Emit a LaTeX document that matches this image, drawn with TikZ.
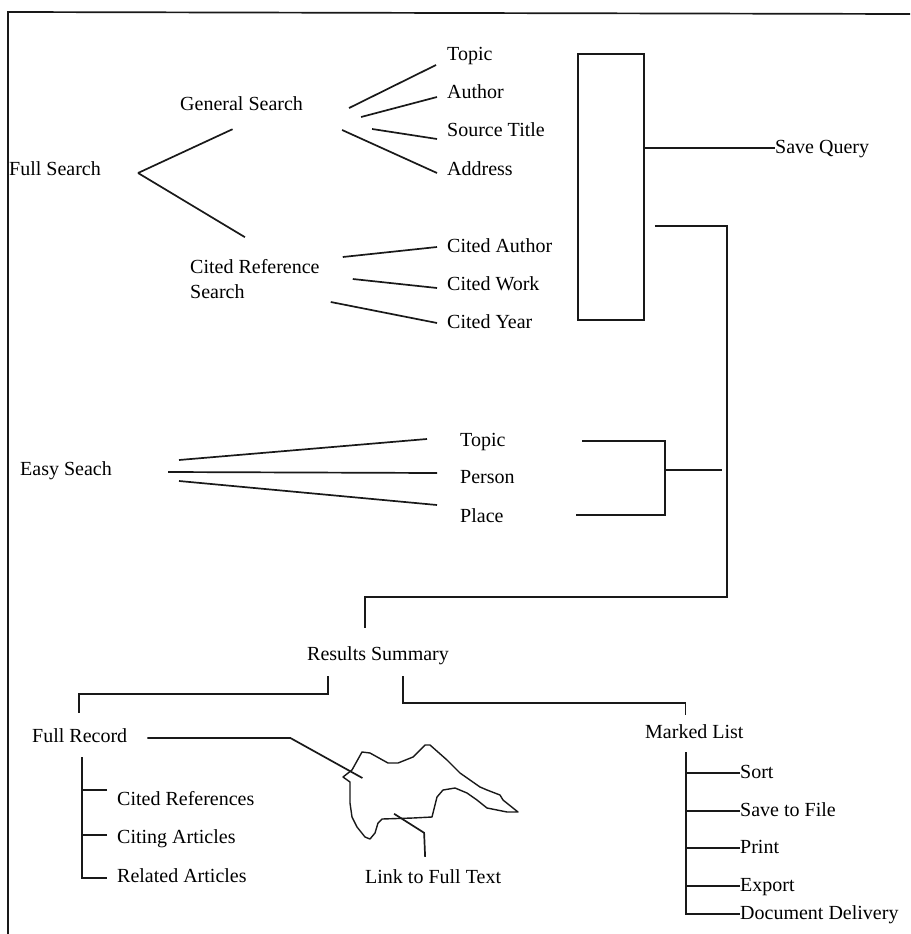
\documentclass[tikz,border=0pt]{standalone}
\usepackage{fontspec}
\setmainfont{Liberation Serif}
\usetikzlibrary{calc}

\begin{document}
\begin{tikzpicture}[
        x=1pt, y=-1pt,
        font=\fontsize{20}{25}\selectfont,
        lbl/.style={anchor=west, inner sep=0pt, text height=14pt, text depth=4pt},
        lbltwo/.style={anchor=west, inner sep=0pt, align=left},
        ln/.style={line width=1.7pt, black!90},
        blob/.style={line width=1.4pt, black!90, line join=round}
    ]
    \useasboundingbox (0,0) rectangle (910,934);
    \draw[ln] (8,934) -- (8,12) -- (910,14);

    \node[lbl] (full) at (9,170) {Full Search};
    \node[lbl] (general) at (180,105) {General Search};
    \node[lbl] (topic1) at (447,55) {Topic};
    \node[lbl] (author) at (447,93) {Author};
    \node[lbl] (source) at (447,131) {Source Title};
    \node[lbl] (address) at (447,170) {Address};
    \node[lbltwo] (citedref) at (190,279) {Cited Reference\\Search};
    \node[lbl] (citedauth) at (447,247) {Cited Author};
    \node[lbl] (citedwork) at (447,285) {Cited Work};
    \node[lbl] (citedyear) at (447,323) {Cited Year};
    \node[draw, line width=1.7pt, black!90, minimum width=66pt, minimum height=266pt,
          inner sep=0pt] (qbox) at (611,187) {};
    \node[lbl] (query) at (775,148) {Save Query};

    \node[lbl] (easy) at (20,470) {Easy Seach};
    \node[lbl] (topic2) at (460,441) {Topic};
    \node[lbl] (person) at (460,478) {Person};
    \node[lbl] (place) at (460,517) {Place};
    \coordinate (ejoin) at (665,470);
    \coordinate (drop) at (727,597);

    \node[lbl] (results) at (307,655) {Results Summary};
    \node[lbl] (record) at (32,737) {Full Record};
    \node[lbl] (marked) at (645,733) {Marked List};
    \node[lbl] (citedrefs) at (117,800) {Cited References};
    \node[lbl] (citing) at (117,838) {Citing Articles};
    \node[lbl] (related) at (117,877) {Related Articles};
    \node[lbl] (link) at (365,878) {Link to Full Text};
    \coordinate (rbar) at (82,757);
    \coordinate (mbar) at (686,752);
    \node[lbl] (sort) at (740,773) {Sort};
    \node[lbl] (savefile) at (740,811) {Save to File};
    \node[lbl] (print) at (740,848) {Print};
    \node[lbl] (export) at (740,886) {Export};
    \node[lbl] (delivery) at (740,914) {Document Delivery};

    \draw[ln] ($(full.east)+(37,3)$) -- ($(general.south)+(-9,15)$);
    \draw[ln] ($(full.east)+(37,3)$) -- ($(citedref.north)+(-10,-22)$);
    \draw[ln] ($(general.east)+(46,3)$) -- ($(topic1.west)+(-11,10)$);
    \draw[ln] ($(general.east)+(58,12)$) -- ($(author.west)+(-10,4)$);
    \draw[ln] ($(general.east)+(69,24)$) -- ($(source.west)+(-10,8)$);
    \draw[ln] ($(general.east)+(39,25)$) -- ($(address.west)+(-10,3)$);
    \draw[ln] ($(citedref.east)+(23,-22)$) -- ($(citedauth.west)+(-10,0)$);
    \draw[ln] ($(citedref.east)+(33,0)$) -- ($(citedwork.west)+(-10,3)$);
    \draw[ln] ($(citedref.east)+(11,23)$) -- ($(citedyear.west)+(-10,0)$);
    \draw[ln] (qbox.east |- query.west) -- (query.west);
    \draw[ln] ($(qbox.east)+(10,39)$) -| (drop) -| ($(results.north west)+(58,-18)$);

    \draw[ln] ($(easy.east)+(67,-10)$) -- ($(topic2.west)+(-33,-2)$);
    \draw[ln] ($(easy.east)+(56,2)$) -- ($(person.west)+(-23,-5)$);
    \draw[ln] ($(easy.east)+(67,11)$) -- ($(place.west)+(-23,-12)$);
    \draw[ln] ($(topic2.west)+(122,0)$) -| (ejoin) |- ($(place.west)+(116,-2)$);
    \draw[ln, shorten >=5pt] (ejoin) -- (ejoin -| drop);

    \draw[ln] ($(results.south west)+(21,12)$) -- ++(0,18) -| ($(record.north)+(-1,-15)$);
    \draw[ln] ($(results.south west)+(96,12)$) -- ++(0,27) -| ($(marked.north)+(-9,-9)$);
    \draw[ln] ($(record.east)+(20,1)$) -- ++(143,0) -- ++(72,40);
    \draw[ln] (rbar) |- ($(related.west)+(-10,1)$);
    \draw[ln] ($(citedrefs.west)+(-10,-10)$) -- ++(-25,0);
    \draw[ln] ($(citing.west)+(-10,-3)$) -- ++(-25,0);
    \draw[ln] ($(link.north)+(-8,-12)$) -- ++(-1,-24) -- ++(-30,-19);
    \draw[ln] (mbar) |- (delivery.west);
    \foreach \n in {sort,savefile,print,export}
        \draw[ln] (mbar |- \n.west) -- (\n.west);

    \draw[blob] (362,752) -- (370,753) -- (388,763) -- (398,763) -- (413,757)
        -- (425,745) -- (430,745) -- (447,760) -- (460,773) -- (480,787)
        -- (487,790) -- (500,795) -- (503,800) -- (518,812) -- (507,812)
        -- (487,808) -- (477,800) -- (467,793) -- (455,788) -- (443,790)
        -- (437,797) -- (435,805) -- (432,817) -- (413,818) -- (382,819)
        -- (378,823) -- (375,833) -- (370,839) -- (365,837) -- (357,827)
        -- (352,817) -- (350,803) -- (350,782) -- (343,777) -- (352,770) -- cycle;
\end{tikzpicture}
\end{document}
